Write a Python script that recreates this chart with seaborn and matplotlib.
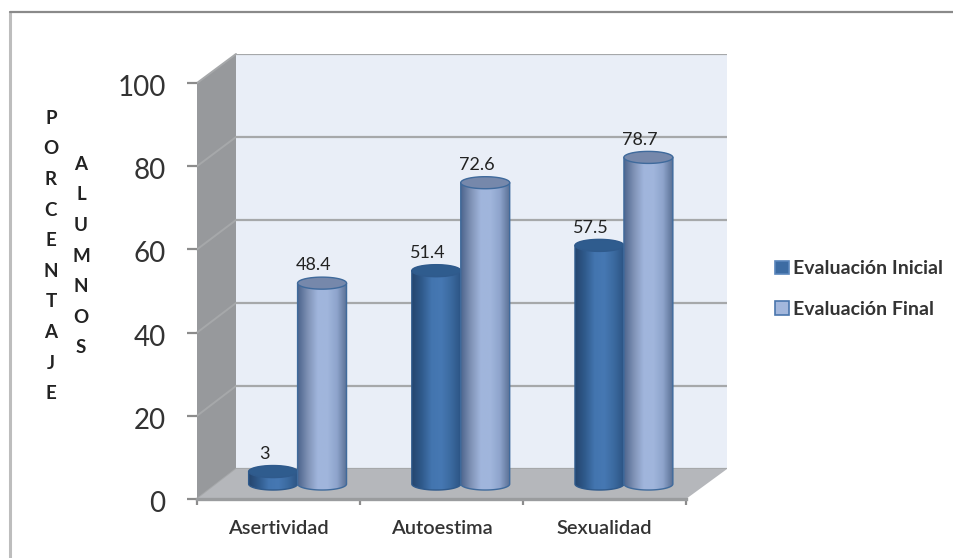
import numpy as np
import pandas as pd
import matplotlib
matplotlib.use("Agg")
import matplotlib.pyplot as plt
from matplotlib.colors import LinearSegmentedColormap
from matplotlib.lines import Line2D
from matplotlib.patches import Polygon, Rectangle
from matplotlib.path import Path
from matplotlib.transforms import Affine2D, IdentityTransform
import seaborn as sns

categories = ["Asertividad", "Autoestima", "Sexualidad"]
series_names = ["Evaluación Inicial", "Evaluación Final"]
inicial = [3, 51.4, 57.5]
final = [48.4, 72.6, 78.7]
y_ticks = [0, 20, 40, 60, 80, 100]
axis_title_a = "PORCENTAJE"
axis_title_b = "ALUMNOS"

sns.set_theme(style="white")
plt.rcParams["font.family"] = ["Lato", "DejaVu Sans"]

W, H = 954, 558
fig = plt.figure(figsize=(W / 100, H / 100), dpi=100, facecolor="white")


def box(left, right, bottom, top):
    """Axes rectangle from pixel edges measured from the top-left corner."""
    return [left / W, 1 - bottom / H, (right - left) / W, (bottom - top) / H]


# Three parallel planes of the pseudo-3D box: back wall, bar plane, front axis.
BACK = (236, 727, 469, 54)
MID = (216, 705.5, 484, 69)
FRONT = (197, 686, 499, 83)

GRID = "#A6A8AA"
pixels = IdentityTransform()


def px(x, y):
    return (x, H - y)


# Outer chart frame
fig.add_artist(Line2D([10 / W, 10 / W], [1 - 12 / H, 0], color="#BDBDBD", lw=2.2))
fig.add_artist(Line2D([10 / W, 1], [1 - 12 / H, 1 - 12 / H], color="#8A8A8A", lw=1.6))

# Back wall with gridlines
ax_back = fig.add_axes(box(*BACK), zorder=1)
ax_back.set_facecolor("#E9EEF7")
ax_back.set_xlim(-0.5, 2.5)
ax_back.set_ylim(0, 100)
ax_back.set_yticks(y_ticks)
ax_back.set_xticks([])
ax_back.tick_params(left=False, labelleft=False)
ax_back.grid(axis="y", color=GRID, lw=1.6)
ax_back.set_axisbelow(True)
sns.despine(ax=ax_back, left=True, bottom=True, right=True, top=True)

# Side wall and floor
x_f0, x_f1, y_f0, y_f100 = FRONT
x_b0, x_b1, y_b0, y_b100 = BACK
fig.add_artist(Polygon([px(x_f0, y_f0), px(x_f0, y_f100), px(x_b0, y_b100), px(x_b0, y_b0)],
                       closed=True, fc="#97999C", ec="none", transform=pixels, zorder=0.5))
fig.add_artist(Polygon([px(x_f0, y_f0), px(x_f1, y_f0), px(x_b1, y_b0), px(x_b0, y_b0)],
                       closed=True, fc="#B5B7BB", ec="none", transform=pixels, zorder=1.5))

# Cylinders: the bars come from seaborn, their shading is layered on top
ax = fig.add_axes(box(*MID), zorder=2)
ax.patch.set_visible(False)
frame = pd.DataFrame({
    "categoria": categories * 2,
    "serie": [series_names[0]] * 3 + [series_names[1]] * 3,
    "valor": inicial + final,
})
dark_mid, light_mid = "#4576B0", "#A1B6DC"
sns.barplot(data=frame, x="categoria", y="valor", hue="serie", order=categories,
            hue_order=series_names, palette=[dark_mid, light_mid], width=0.6,
            gap=0, dodge=True, ax=ax, legend=False, saturation=1)
ax.set_xlim(-0.5, 2.5)
ax.set_ylim(0, 100)
ax.axis("off")

cylinder_maps = [
    LinearSegmentedColormap.from_list("dark", ["#25466F", "#2F5A8C", "#4375AF", "#4678B3", "#3B6A9F", "#2C5484"]),
    LinearSegmentedColormap.from_list("light", ["#4E668E", "#7F92B5", "#A0B5DC", "#A1B6DC", "#8EA4CC", "#5A7094"]),
]
top_colors = ["#2F5C8E", "#7688AB"]
edge_colors = ["#2F5A8C", "#3F6A9C"]
ELL = 1.45  # half height of the cylinder ellipses, in value units
theta = np.linspace(0, np.pi, 60)
gradient = np.linspace(0, 1, 128).reshape(1, -1)

for s, container in enumerate(ax.containers):
    for bar in container:
        x0, w, v = bar.get_x(), bar.get_width(), bar.get_height()
        cx, rx = x0 + w / 2, w / 2
        bar.set_visible(False)
        # body outline: straight sides, rounded base, closed behind the lid
        lower = np.c_[cx - rx * np.cos(theta), -ELL * np.sin(theta)]
        upper = np.c_[cx + rx * np.cos(theta), v + ELL * np.sin(theta)]
        body = Path(np.vstack([lower, upper, lower[:1]]))
        im = ax.imshow(gradient, cmap=cylinder_maps[s], aspect="auto",
                       extent=(x0, x0 + w, -ELL, v + ELL), zorder=3 + s * 0.1,
                       interpolation="bilinear")
        im.set_clip_box(fig.bbox)
        im.set_clip_path(body, transform=ax.transData)
        # outline of the base and both sides
        side_x = np.r_[x0, lower[:, 0], x0 + w]
        side_y = np.r_[v, lower[:, 1], v]
        ax.plot(side_x, side_y, color=edge_colors[s], lw=1.0, zorder=3.01 + s * 0.1, clip_on=False)
        lid = np.linspace(0, 2 * np.pi, 120)
        ax.fill(cx + rx * np.cos(lid), v + ELL * np.sin(lid), fc=top_colors[s],
                ec=edge_colors[s], lw=1.0, zorder=3.02 + s * 0.1, clip_on=False)
        # value label sits a little left of the cylinder axis
        ax.annotate(f"{v:g}", (cx, v), xytext=(-6, 12.8), textcoords="offset points",
                    ha="center", va="center", fontsize=13, color="#222222",
                    zorder=5, annotation_clip=False)
ax.set_xlim(-0.5, 2.5)
ax.set_ylim(0, 100)

# Front plane: the visible value and category axes
ax_front = fig.add_axes(box(*FRONT), zorder=1.7)
ax_front.patch.set_visible(False)
ax_front.set_xlim(-0.5, 2.5)
ax_front.set_ylim(0, 100)
ax_front.set_yticks(y_ticks)
ax_front.set_xticks([-0.5, 0.5, 1.5, 2.5])
ax_front.set_xticklabels([])
ax_front.set_xticks([0, 1, 2], minor=True)
ax_front.set_xticklabels(categories, minor=True, fontsize=14.4, color="#333333", fontweight="semibold")
ax_front.tick_params(axis="y", labelsize=20, labelcolor="#333333", color="#8C8C8C",
                     width=1.6, length=7.5, left=True, pad=15)
ax_front.tick_params(axis="x", which="major", color="#8C8C8C", width=1.6, length=4.5, bottom=True)
ax_front.tick_params(axis="x", which="minor", bottom=False, pad=11)
for label in ax_front.get_yticklabels():
    label.set_transform(label.get_transform() + Affine2D().translate(0, -2.5))
sns.despine(ax=ax_front, top=True, right=True)
ax_front.spines["left"].set_visible(False)
ax_front.spines["bottom"].set_color("#9A9C9E")
ax_front.spines["bottom"].set_linewidth(2.4)

# Gridline traces across the side wall
for t in y_ticks:
    yf = y_f0 + (y_f100 - y_f0) * t / 100
    yb = y_b0 + (y_b100 - y_b0) * t / 100
    fig.add_artist(Line2D([x_f0, x_b0], [H - yf, H - yb], color=GRID, lw=1.4,
                          transform=pixels, zorder=0.6))

# Stacked axis titles
letter_style = dict(ha="center", va="center", fontsize=13.5, fontweight="bold",
                    color="#222222", linespacing=1.975)
fig.text(51 / W, 1 - 256 / H, "\n".join(axis_title_a), **letter_style)
fig.text(81 / W, 1 - 256 / H, "\n".join(axis_title_b), **letter_style)

# Legend
handles = [
    Rectangle((0, 0), 1, 1, fc="#3D6CA3", ec="#5A86BC", lw=1.2),
    Rectangle((0, 0), 1, 1, fc="#A3B7DC", ec="#4A76AD", lw=1.2),
]
fig.legend(handles, series_names, loc="center left", bbox_to_anchor=(775 / W, 1 - 289 / H),
           frameon=False, prop={"size": 14, "weight": "bold"}, labelcolor="#333333",
           handlelength=0.72, handleheight=0.72, handletextpad=0.22, labelspacing=1.2,
           borderpad=0, borderaxespad=0)

fig.savefig("out.png", dpi=100, facecolor="white")
